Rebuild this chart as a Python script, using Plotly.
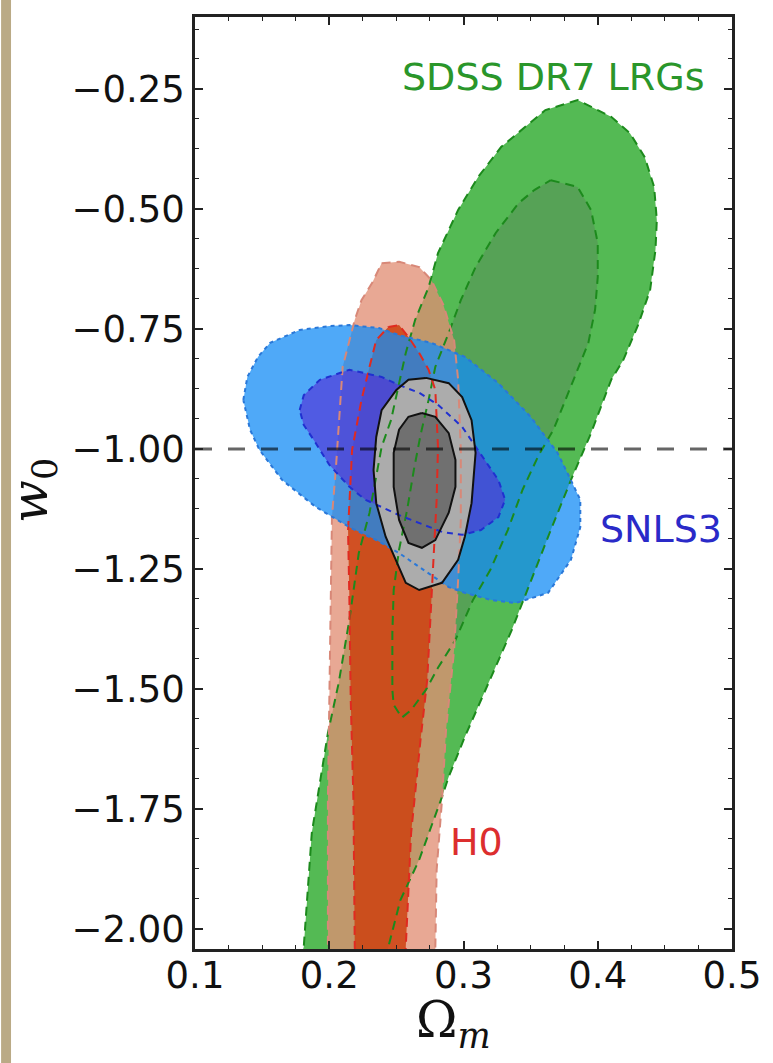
import plotly.graph_objects as go

# ---------------- data (Omega_m, w0) ----------------
sdss_outer_om = [0.178, 0.181, 0.187, 0.199, 0.207, 0.215, 0.222, 0.230, 0.239, 0.246, 0.257, 0.264,
                 0.274, 0.281, 0.296, 0.311, 0.328, 0.361, 0.385, 0.410, 0.424, 0.435, 0.442, 0.444,
                 0.443, 0.439, 0.430, 0.419, 0.410, 0.395, 0.380, 0.365, 0.336, 0.313, 0.301, 0.289,
                 0.284, 0.267, 0.253, 0.244, 0.241]
sdss_outer_w = [-2.065, -2.038, -1.800, -1.592, -1.488, -1.356, -1.217, -1.133, -0.996, -0.940, -0.800, -0.731,
                -0.663, -0.592, -0.502, -0.433, -0.371, -0.294, -0.273, -0.308, -0.342, -0.392, -0.454, -0.523,
                -0.585, -0.669, -0.742, -0.815, -0.856, -0.967, -1.065, -1.169, -1.377, -1.523, -1.600, -1.683,
                -1.725, -1.856, -1.940, -2.038, -2.075]

sdss_inner_om = [0.365, 0.385, 0.395, 0.400, 0.400, 0.398, 0.393, 0.385, 0.379, 0.367, 0.356, 0.344,
                 0.333, 0.320, 0.307, 0.294, 0.281, 0.272, 0.261, 0.254, 0.248, 0.247, 0.247, 0.248,
                 0.252, 0.258, 0.263, 0.268, 0.274, 0.279, 0.289, 0.298, 0.309, 0.324, 0.341, 0.353]
sdss_inner_w = [-0.440, -0.454, -0.502, -0.571, -0.642, -0.710, -0.779, -0.835, -0.877, -0.960, -1.013, -1.085,
                -1.169, -1.252, -1.315, -1.398, -1.456, -1.502, -1.544, -1.560, -1.533, -1.502, -1.383, -1.294,
                -1.210, -1.127, -1.044, -0.971, -0.898, -0.829, -0.758, -0.690, -0.621, -0.550, -0.488, -0.460]

h0_outer_om = [0.239, 0.252, 0.267, 0.276, 0.285, 0.293, 0.296, 0.298, 0.298, 0.296, 0.293, 0.287,
               0.284, 0.280, 0.279, 0.279, 0.198, 0.199, 0.199, 0.200, 0.201, 0.202, 0.205, 0.210,
               0.219, 0.224, 0.232]
h0_outer_w = [-0.613, -0.610, -0.621, -0.648, -0.700, -0.773, -0.856, -1.002, -1.148, -1.273, -1.419, -1.585,
              -1.731, -1.877, -2.042, -2.085, -2.085, -2.042, -1.731, -1.523, -1.315, -1.142, -1.038, -0.829,
              -0.731, -0.690, -0.654]

h0_inner_om = [0.244, 0.252, 0.259, 0.267, 0.274, 0.279, 0.281, 0.280, 0.278, 0.276, 0.273, 0.268,
               0.261, 0.257, 0.256, 0.220, 0.219, 0.218, 0.216, 0.215, 0.214, 0.217, 0.224, 0.230, 0.235]
h0_inner_w = [-0.746, -0.742, -0.767, -0.800, -0.835, -0.877, -0.996, -1.106, -1.210, -1.315, -1.481, -1.606,
              -1.800, -2.038, -2.085, -2.085, -2.038, -1.731, -1.523, -1.315, -1.169, -1.002, -0.898, -0.829, -0.773]

sn_outer_om = [0.136, 0.139, 0.147, 0.156, 0.178, 0.200, 0.215, 0.237, 0.252, 0.276, 0.301, 0.326,
               0.350, 0.370, 0.380, 0.387, 0.387, 0.380, 0.363, 0.339, 0.321, 0.301, 0.289, 0.252,
               0.235, 0.215, 0.190, 0.165, 0.148, 0.141]
sn_outer_w = [-0.898, -0.850, -0.808, -0.779, -0.752, -0.744, -0.742, -0.748, -0.763, -0.779, -0.808, -0.863,
              -0.933, -1.008, -1.065, -1.106, -1.163, -1.231, -1.300, -1.321, -1.315, -1.300, -1.288, -1.217,
              -1.190, -1.163, -1.121, -1.065, -1.002, -0.960]

sn_inner_om = [0.178, 0.181, 0.193, 0.215, 0.239, 0.252, 0.267, 0.281, 0.299, 0.316, 0.326, 0.331,
               0.326, 0.313, 0.299, 0.284, 0.267, 0.252, 0.239, 0.227, 0.215, 0.200, 0.190, 0.181]
sn_inner_w = [-0.919, -0.888, -0.856, -0.835, -0.850, -0.867, -0.883, -0.908, -0.954, -1.023, -1.065, -1.106,
              -1.142, -1.169, -1.179, -1.173, -1.154, -1.138, -1.121, -1.106, -1.079, -1.033, -0.988, -0.950]

comb_outer_om = [0.272, 0.289, 0.299, 0.306, 0.309, 0.306, 0.301, 0.296, 0.284, 0.267, 0.257, 0.252,
                 0.242, 0.235, 0.233, 0.235, 0.239, 0.250, 0.259]
comb_outer_w = [-0.852, -0.863, -0.892, -0.940, -1.008, -1.113, -1.183, -1.231, -1.279, -1.294, -1.279, -1.246,
                -1.183, -1.113, -1.044, -0.975, -0.919, -0.877, -0.856]

comb_inner_om = [0.269, 0.279, 0.289, 0.294, 0.294, 0.289, 0.279, 0.269, 0.259, 0.252, 0.248, 0.248,
                 0.252, 0.259]
comb_inner_w = [-0.925, -0.933, -0.967, -1.023, -1.079, -1.133, -1.190, -1.206, -1.196, -1.148, -1.079, -1.008,
                -0.960, -0.933]

ref_line_om = [0.1, 0.5]
ref_line_w = [-1.0, -1.0]

labels = ["SDSS DR7 LRGs", "SNLS3", "H0"]
label_om = [0.367, 0.447, 0.310]
label_w = [-0.225, -1.167, -1.819]
label_colors = ["#2a962a", "#2a2ac8", "#dc2e2e"]

x_range = [0.1, 0.5]
y_range = [-2.042, -0.10]

# ---------------- figure ----------------
fig = go.Figure()


def closed(a):
    return list(a) + [a[0]]


fills = [
    (sdss_outer_om, sdss_outer_w, "rgb(84,186,84)"),
    (sdss_inner_om, sdss_inner_w, "rgb(86,162,86)"),
    (h0_outer_om, h0_outer_w, "rgba(225,142,116,0.77)"),
    (h0_inner_om, h0_inner_w, "rgba(205,65,15,0.85)"),
    (sn_outer_om, sn_outer_w, "rgba(20,140,245,0.75)"),
    (sn_inner_om, sn_inner_w, "rgba(80,50,215,0.66)"),
    (comb_outer_om, comb_outer_w, "rgb(172,172,172)"),
    (comb_inner_om, comb_inner_w, "rgb(112,112,112)"),
]
for xs, ys, col in fills:
    fig.add_trace(go.Scatter(x=closed(xs), y=closed(ys), mode="lines", fill="toself",
                             fillcolor=col, line=dict(width=0), hoverinfo="skip", showlegend=False))

lines = [
    (sdss_outer_om, sdss_outer_w, "#1c8a1c", 2, "9px,6px"),
    (sdss_inner_om, sdss_inner_w, "#1c8a1c", 2, "9px,6px"),
    (h0_outer_om, h0_outer_w, "#d88878", 2, "9px,6px"),
    (h0_inner_om, h0_inner_w, "#e02a20", 2, "9px,6px"),
    (sn_outer_om, sn_outer_w, "#2a78d8", 2, "4px,4px"),
    (sn_inner_om, sn_inner_w, "#2030d0", 2, "6px,5px"),
    (comb_outer_om, comb_outer_w, "#111111", 2, "solid"),
    (comb_inner_om, comb_inner_w, "#111111", 2, "solid"),
]
for xs, ys, col, w, d in lines:
    fig.add_trace(go.Scatter(x=closed(xs), y=closed(ys), mode="lines",
                             line=dict(color=col, width=w, dash=d), hoverinfo="skip", showlegend=False))

fig.add_trace(go.Scatter(x=ref_line_om, y=ref_line_w, mode="lines",
                         line=dict(color="rgba(0,0,0,0.6)", width=3, dash="17px,16px"),
                         hoverinfo="skip", showlegend=False))

for t, xx, yy, c in zip(labels, label_om, label_w, label_colors):
    fig.add_annotation(x=xx, y=yy, text=t, showarrow=False,
                       font=dict(family="DejaVu Sans", size=38, color=c))

# axis titles
fig.add_annotation(xref="paper", yref="paper", x=-0.300, y=0.4925, text="<i>w</i><sub>0</sub>",
                   textangle=-90, showarrow=False, xanchor="center", yanchor="middle",
                   font=dict(family="DejaVu Serif", size=50, color="#111"))
fig.add_annotation(xref="paper", yref="paper", x=0.4815, y=-0.0794, text="Ω<sub><i>m</i></sub>",
                   showarrow=False, xanchor="center", yanchor="middle",
                   font=dict(family="DejaVu Serif", size=50, color="#111"))

# beige strip at far left
fig.add_shape(type="rect", xref="paper", yref="paper", x0=-0.3611, x1=-0.3426, y0=-0.1223, y1=1.0182,
              fillcolor="rgb(186,170,134)", line=dict(width=0), layer="below")

axis_common = dict(showgrid=False, zeroline=False, showline=True, linecolor="#222", linewidth=2.5,
                   mirror="allticks", ticks="inside", ticklen=8, tickwidth=1.5, tickcolor="#222",
                   tickfont=dict(family="DejaVu Sans", size=37, color="#111"))

fig.update_xaxes(range=x_range, tick0=0.1, dtick=0.1, tickformat=".1f", ticklabelstandoff=-8,
                 minor=dict(dtick=0.025, ticks="inside", ticklen=4, tickcolor="#222", tickwidth=1.2),
                 **axis_common)
fig.update_yaxes(range=y_range, tick0=0, dtick=0.25, tickformat=".2f",
                 minor=dict(dtick=0.0625, ticks="inside", ticklen=4, tickcolor="#222", tickwidth=1.2),
                 **axis_common)

fig.update_layout(width=773, height=1063, margin=dict(l=195, r=38, t=17, b=114),
                  paper_bgcolor="white", plot_bgcolor="white", showlegend=False)

fig.write_html("out.html")
